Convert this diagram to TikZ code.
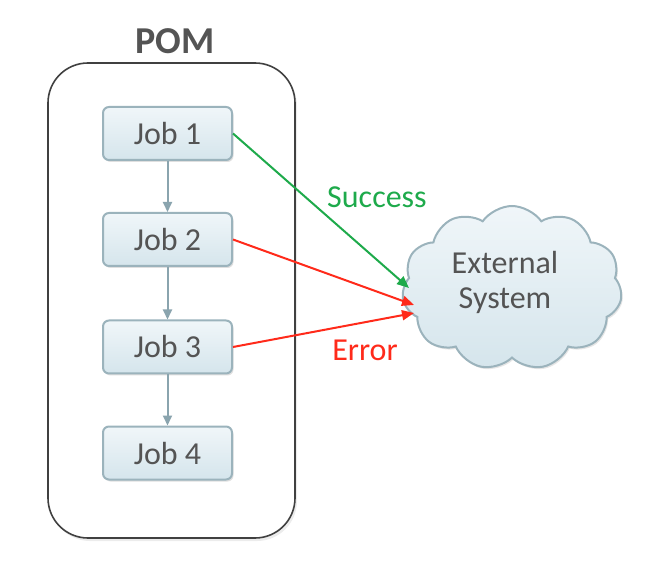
\documentclass[tikz,border=0pt]{standalone}
\usepackage{fontspec}
\setmainfont{Carlito}
\usetikzlibrary{arrows.meta,shapes.symbols,shadows,calc}
\definecolor{txtgray}{HTML}{545454}
\definecolor{boxtop}{HTML}{F0F6F9}
\definecolor{boxbot}{HTML}{D5E5EC}
\definecolor{boxline}{HTML}{9BB3BC}
\definecolor{flowgray}{HTML}{8AA4AE}
\definecolor{okgreen}{HTML}{1EAA4B}
\definecolor{errred}{HTML}{FF2A1A}
\definecolor{frame}{HTML}{404040}
\tikzset{
  jobbox/.style={draw=boxline, line width=2pt, rounded corners=6pt,
    top color=boxtop, bottom color=boxbot, minimum width=129pt, minimum height=53pt,
    text=txtgray, font=\fontsize{32}{36}\selectfont,
    drop shadow={shadow xshift=1.5pt, shadow yshift=-2pt, opacity=0.25}},
  flow/.style={draw=flowgray, line width=2pt, -{Triangle[length=10pt,width=9pt]}},
  okarrow/.style={draw=okgreen, line width=2pt, -{Triangle[length=12pt,width=10pt]}},
  errarrow/.style={draw=errred, line width=2pt, -{Triangle[length=12pt,width=10pt]}},
  container/.style={draw=frame, line width=1.6pt, rounded corners=40pt, fill=white,
    drop shadow={shadow xshift=2pt, shadow yshift=-3pt, opacity=0.15}},
  cloudshape/.style={cloud, cloud puffs=11, cloud puff arc=110, aspect=1.35,
    draw=boxline, line width=2pt, top color=boxtop, bottom color=boxbot,
    minimum width=220pt, minimum height=164pt, inner sep=0pt,
    drop shadow={shadow xshift=1.5pt, shadow yshift=-2pt, opacity=0.2}},
  lbl/.style={font=\fontsize{32}{36}\selectfont}
}
\begin{document}
\begin{tikzpicture}[x=1pt,y=-1pt]
\useasboundingbox (0,0) rectangle (646,572);
\node[container, minimum width=247pt, minimum height=475pt] (pom) at (171.5,300.5) {};
\node[text=txtgray, font=\bfseries\fontsize{38}{40}\selectfont] (title) at (175,41) {POM};
\node[jobbox] (j1) at (167.5,133.5) {Job 1};
\node[jobbox] (j2) at (167.5,239.5) {Job 2};
\node[jobbox] (j3) at (167.5,347) {Job 3};
\node[jobbox] (j4) at (167.5,453) {Job 4};
\draw[flow] (j1) -- (j2);
\draw[flow] (j2) -- (j3);
\draw[flow] (j3) -- (j4);
\node[cloudshape] (ext) at (512,288) {};
\node[text=txtgray, font=\fontsize{32}{35}\selectfont, align=center] (extxt) at (505,282) {External\\System};
\coordinate (tg) at (409,288);
\coordinate (tr1) at (414,305);
\coordinate (tr2) at (414,313);
\draw[okarrow] (j1.east) -- (tg);
\draw[errarrow] (j2.east) -- (tr1);
\draw[errarrow] (j3.east) -- (tr2);
\node[lbl, text=okgreen] (succ) at (377,197) {Success};
\node[lbl, text=errred] (err) at (365,350) {Error};
\end{tikzpicture}
\end{document}
